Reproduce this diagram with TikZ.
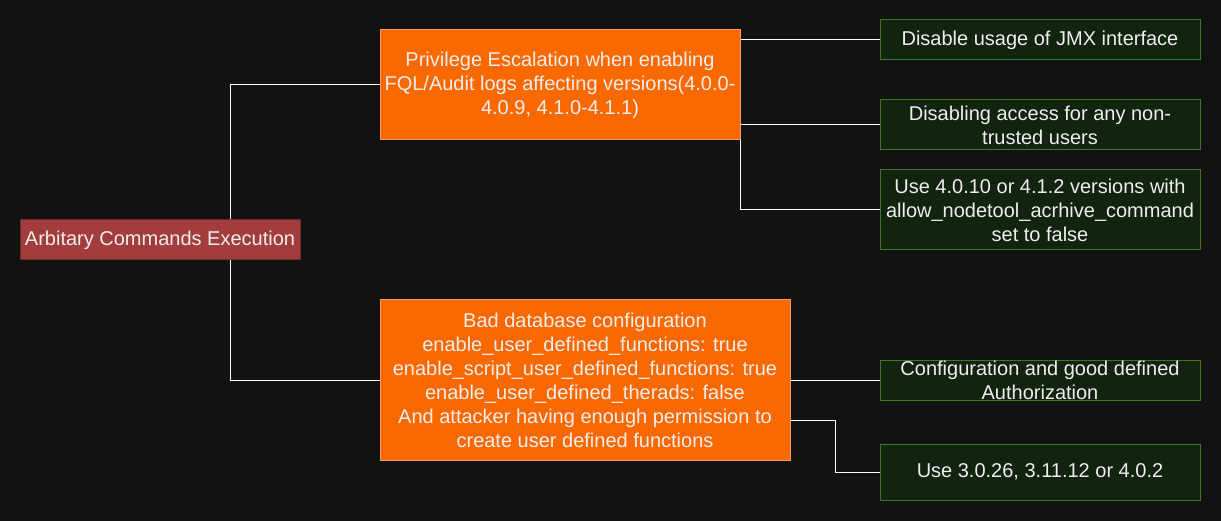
\documentclass[tikz,border=0pt]{standalone}
\usepackage{fontspec}
\setmainfont{Liberation Sans}
\definecolor{bg}{HTML}{121212}
\definecolor{rootfill}{HTML}{A33D3D}
\definecolor{rootdraw}{HTML}{6F2A2A}
\definecolor{orfill}{HTML}{FA6800}
\definecolor{ordraw}{HTML}{F59A6A}
\definecolor{grfill}{HTML}{12230F}
\definecolor{grdraw}{HTML}{3A7A1E}
\definecolor{txt}{HTML}{EEEEEE}
\tikzset{
  box/.style={rectangle, line width=1pt, text=txt, align=center, inner sep=0pt,
    font=\fontsize{20}{24}\selectfont},
  rootbox/.style={box, fill=rootfill, draw=rootdraw},
  orbox/.style={box, fill=orfill, draw=ordraw},
  grbox/.style={box, fill=grfill, draw=grdraw, minimum width=320pt},
  link/.style={draw=white, line width=1pt}
}
\begin{document}
\begin{tikzpicture}[x=1pt,y=-1pt]
\fill[bg] (0,0) rectangle (1221,521);
\useasboundingbox (0,0) rectangle (1221,521);

\node[rootbox, minimum width=280pt, minimum height=40pt] (root) at (160,240) {Arbitary Commands Execution};

\node[orbox, minimum width=360pt, minimum height=110pt] (p1) at (560,85)
  {Privilege Escalation when enabling\\FQL/Audit logs affecting versions(4.0.0-\\4.0.9, 4.1.0-4.1.1)};
\node[orbox, minimum width=410pt, minimum height=160pt] (p2) at (585,380)
  {Bad database configuration\\enable\_user\_defined\_functions: true\\enable\_script\_user\_defined\_functions: true\\enable\_user\_defined\_therads: false\\And attacker having enough permission to\\create user defined functions};

\node[grbox, minimum height=40pt] (g1) at (1040,40) {Disable usage of JMX interface};
\node[grbox, minimum height=50pt] (g2) at (1040,125) {Disabling access for any non-\\trusted users};
\node[grbox, minimum height=80pt] (g3) at (1040,210) {Use 4.0.10 or 4.1.2 versions with\\allow\_nodetool\_acrhive\_command\\set to false};
\node[grbox, minimum height=40pt] (g4) at (1040,380) {Configuration and good defined\\Authorization};
\node[grbox, minimum height=56pt] (g5) at (1040,472) {Use 3.0.26, 3.11.12 or 4.0.2};

\coordinate (rx) at (230,0);
\coordinate (jx) at (835,0);
\draw[link] (root.north -| rx) |- (p1.west);
\draw[link] (root.south -| rx) |- (p2.west);
\draw[link] (p1.east |- g1.west) -- (g1.west);
\draw[link] (p1.east |- g2.west) -- (g2.west);
\draw[link] (p1.south east) |- (g3.west);
\draw[link] (p2.east |- g4.west) -- (g4.west);
\coordinate (p2o) at ([yshift=-40pt]p2.east);
\draw[link] (p2o) -| (p2o -| jx) |- (g5.west);
\end{tikzpicture}
\end{document}
